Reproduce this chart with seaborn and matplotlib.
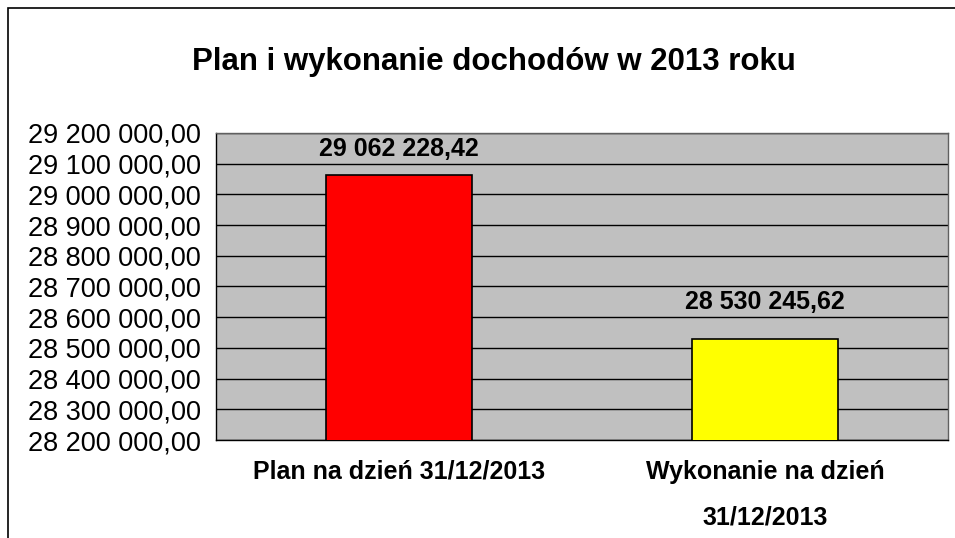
import pandas as pd
import matplotlib
matplotlib.use("Agg")
import matplotlib.pyplot as plt
import matplotlib.ticker as mticker
import seaborn as sns

categories = ["Plan na dzień 31/12/2013", "Wykonanie na dzień\n31/12/2013"]
values = [29062228.42, 28530245.62]
colors = ["#FF0000", "#FFFF00"]
title = "Plan i wykonanie dochodów w 2013 roku"

df = pd.DataFrame({"kategoria": categories, "kwota": values})

sns.set_style("white")
plt.rcParams["font.family"] = ["Liberation Sans", "DejaVu Sans"]
plt.rcParams["text.color"] = "black"
plt.rcParams["xtick.color"] = "black"
plt.rcParams["ytick.color"] = "black"


def pl_fmt(v, pos=None):
    s = f"{v:,.2f}"
    return s.replace(",", " ").replace(".", ",")


fig = plt.figure(figsize=(9.55, 5.38), dpi=100)
ax = fig.add_axes([0.226, 0.182, 0.767, 0.571])
ax.set_facecolor("#C0C0C0")

sns.barplot(data=df, x="kategoria", y="kwota", hue="kategoria", palette=colors,
            saturation=1, width=0.4, edgecolor="black", linewidth=1.2,
            legend=False, ax=ax, zorder=3)

ax.set_ylim(28200000, 29200000)
ax.yaxis.set_major_locator(mticker.MultipleLocator(100000))
ax.yaxis.set_major_formatter(mticker.FuncFormatter(pl_fmt))
ax.grid(axis="y", color="black", linewidth=1, zorder=0)
ax.set_axisbelow(True)
ax.set_xlim(-0.5, 1.5)

ax.tick_params(axis="y", direction="out", length=7, width=1, color="black",
               labelsize=19.5, labelcolor="black", pad=4)
ax.tick_params(axis="x", which="major", length=0, pad=14, labelcolor="black")
ax.set_xticks([-0.5, 0.5, 1.5], minor=True)
ax.tick_params(axis="x", which="minor", length=6, width=1, color="black")
for lbl in ax.get_xticklabels():
    lbl.set_fontsize(18)
    lbl.set_fontweight("bold")
    lbl.set_linespacing(2.15)

ax.set_xlabel("")
ax.set_ylabel("")
for side in ["left", "bottom"]:
    ax.spines[side].set_color("black")
    ax.spines[side].set_linewidth(1)
for side in ["top", "right"]:
    ax.spines[side].set_color("#606060")
    ax.spines[side].set_linewidth(1)

# odstęp etykiet nad słupkami (w punktach)
for i, (v, off) in enumerate(zip(values, (10, 18))):
    ax.annotate(pl_fmt(v), (i, v), xytext=(0, off), textcoords="offset points",
                ha="center", va="bottom", fontsize=18, fontweight="bold")

fig.text(0.517, 0.885, title, ha="center", va="center", fontsize=22.5, fontweight="bold")

border = plt.Rectangle((8 / 955, -0.05), 1.1, 1.05 - 8 / 538, transform=fig.transFigure,
                       fill=False, edgecolor="black", linewidth=1.2)
fig.patches.append(border)

fig.savefig("out.png", dpi=100)
